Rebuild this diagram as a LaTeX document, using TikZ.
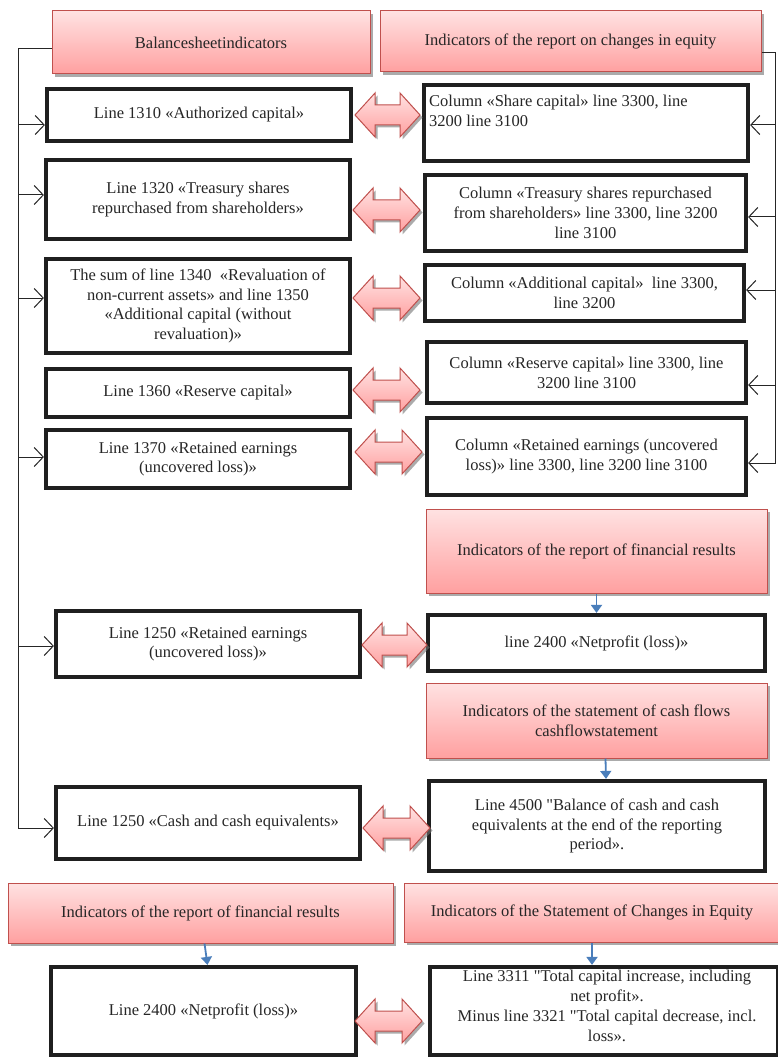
\documentclass[tikz,border=0pt]{standalone}
\usepackage{fontspec}
\setmainfont{Liberation Serif}
\newfontfamily\plainq[Ligatures=TeXOff]{Liberation Serif}
\usetikzlibrary{arrows.meta,shadows,calc}
\definecolor{hdrline}{HTML}{C0504D}
\definecolor{hdrtop}{HTML}{FFE2E2}
\definecolor{hdrbot}{HTML}{FFA0A0}
\definecolor{bluearr}{HTML}{4A7EBB}
\newcommand\sq{{\plainq"}}
\tikzset{
 every node/.style={font=\fontsize{16.5}{19.8}\selectfont, align=center, inner sep=0pt, text=black!85},
 sz/.style 2 args={minimum width=#1pt, minimum height=#2pt},
 hdr/.style={draw=hdrline, line width=1pt, top color=hdrtop, bottom color=hdrbot,
   drop shadow={shadow xshift=3pt, shadow yshift=-3pt, fill=black!55, opacity=0.6}},
 box/.style={draw=black!88, line width=4.2pt, fill=white,
   drop shadow={shadow xshift=2pt, shadow yshift=-2pt, fill=black!35, opacity=0.5}},
 link/.style={draw=black!85, line width=1pt},
 barb/.style={link, -{Straight Barb[length=9pt,width=19pt]}},
 down/.style={draw=bluearr, line width=1.8pt, -{Triangle[length=8pt,width=11pt]}},
 dblarr/.style={draw=hdrline, line width=1pt, top color=hdrtop, bottom color=hdrbot,
   drop shadow={shadow xshift=2.5pt, shadow yshift=-2.5pt, fill=black!55, opacity=0.6}}
}
\newcommand\dblarrow[3]{\path[dblarr] (#1,#3) -- (#1+20,#3-22) -- (#1+20,#3-10) -- (#2-20,#3-10) -- (#2-20,#3-22) -- (#2,#3) -- (#2-20,#3+22) -- (#2-20,#3+10) -- (#1+20,#3+10) -- (#1+20,#3+22) -- cycle;}
\begin{document}
\begin{tikzpicture}[x=1pt,y=-1pt]
\useasboundingbox (0,0) rectangle (778,1059);
\fill[white] (0,0) rectangle (778,1059);
% headers
\node[hdr, sz={318}{63}] (h1) at (211,42.5) {Balancesheetindicators};
\node[hdr, sz={381}{61}] (h2) at (570.5,41.5) {Indicators of the report on changes in equity};
% left boxes
\node[box, sz={304}{52}] (B1) at (199,115) {Line 1310 «Authorized capital»};
\node[box, sz={304}{79}] (B2) at (198,199.5) {Line 1320 «Treasury shares\\repurchased from shareholders»};
\node[box, sz={304}{94}] (B3) at (198,306) {The sum of line 1340~ «Revaluation of\\non-current assets» and line 1350\\«Additional capital (without\\revaluation)»};
\node[box, sz={304}{48}] (B4) at (198,393) {Line 1360 «Reserve capital»};
\node[box, sz={304}{58}] (B5) at (198,459) {Line 1370 «Retained earnings\\(uncovered loss)»};
\node[box, sz={304}{66}] (B6) at (208,644) {Line 1250 «Retained earnings\\(uncovered loss)»};
\node[box, sz={304}{72}] (B7) at (208,823) {Line 1250 «Cash and cash equivalents»};
% right boxes
\node[box, sz={324}{76}] (R1) at (586,123) {};
\node[anchor=north west, align=left] (R1t) at (429,95) {Column «Share capital» line 3300, line\\3200 line 3100};
\node[box, sz={321}{76}] (R2) at (585.5,213) {Column «Treasury shares repurchased\\from shareholders» line 3300, line 3200\\line 3100};
\node[box, sz={319}{56}] (R3) at (584.5,293) {Column «Additional capital»~ line 3300,\\line 3200};
\node[box, sz={319}{61}] (R4) at (586.5,372.5) {Column «Reserve capital» line 3300, line\\3200 line 3100};
\node[box, sz={319}{77}] (R5) at (586.5,456.5) {Column «Retained earnings (uncovered\\loss)» line 3300, line 3200 line 3100};
\node[hdr, sz={341}{84}] (h3) at (596.5,551) {Indicators of the report of financial results};
\node[box, sz={337}{56}] (R6) at (596.5,643) {line 2400 «Netprofit (loss)»};
\node[hdr, sz={341}{75}] (h4) at (596.5,720.5) {Indicators of the statement of cash flows\\cashflowstatement};
\node[box, sz={336}{90}] (R7) at (597,826) {Line 4500 \sq Balance of cash and cash\\equivalents at the end of the reporting\\period».};
% bottom section
\node[hdr, sz={385}{60}] (h5) at (200.5,913) {Indicators of the report of financial results};
\node[hdr, sz={376}{59}] (h6) at (592,912.5) {Indicators of the Statement of Changes in Equity};
\node[box, sz={305}{88}] (B8) at (203.5,1011) {Line 2400 «Netprofit (loss)»};
\node[box, sz={348}{88}] (R8) at (604,1011) {};
\node (R8t) at (607,1006) {Line 3311 \sq Total capital increase, including\\net profit».\\Minus line 3321 \sq Total capital decrease, incl.\\loss».};
% double arrows
\dblarrow{355}{420}{115}
\dblarrow{353}{420}{210}
\dblarrow{353}{420}{298}
\dblarrow{353}{420}{390}
\dblarrow{355}{422}{452}
\dblarrow{362}{427}{645}
\dblarrow{363}{430}{828}
\dblarrow{355}{422}{1021}
% left spine
\coordinate (lb) at (18,828);
\coordinate (l1) at (18,125);
\coordinate (l2) at (18,195);
\coordinate (l3) at (18,298);
\coordinate (l5) at (18,457);
\coordinate (l6) at (18,646);
\draw[barb] ([yshift=-6.5pt]h1.west) -| (lb) -- (lb -| B7.west);
\draw[barb] (l1) -- (l1 -| B1.west);
\draw[barb] (l2) -- (l2 -| B2.west);
\draw[barb] (l3) -- (l3 -| B3.west);
\draw[barb] (l5) -- (l5 -| B5.west);
\draw[barb] (l6) -- (l6 -| B6.west);
% right spine
\coordinate (rb) at (775,463);
\coordinate (r1) at (775,125);
\coordinate (r2) at (775,217);
\coordinate (r3) at (775,290);
\coordinate (r4) at (775,385);
\draw[barb] ([yshift=-11.5pt]h2.east) -| (rb) -- (rb -| R5.east);
\draw[barb] (r1) -- (r1 -| R1.east);
\draw[barb] (r2) -- (r2 -| R2.east);
\draw[barb] (r3) -- (r3 -| R3.east);
\draw[barb] (r4) -- (r4 -| R4.east);
% blue arrows
\draw[down] (h3.south) -- (R6.north);
\draw[down] ([xshift=9pt]h4.south) -- ([xshift=9pt]R7.north);
\draw[down] ([xshift=4pt]h5.south) -- ([xshift=4pt]B8.north);
\draw[down] (h6.south) -- (h6.south |- R8.north);
\end{tikzpicture}
\end{document}
